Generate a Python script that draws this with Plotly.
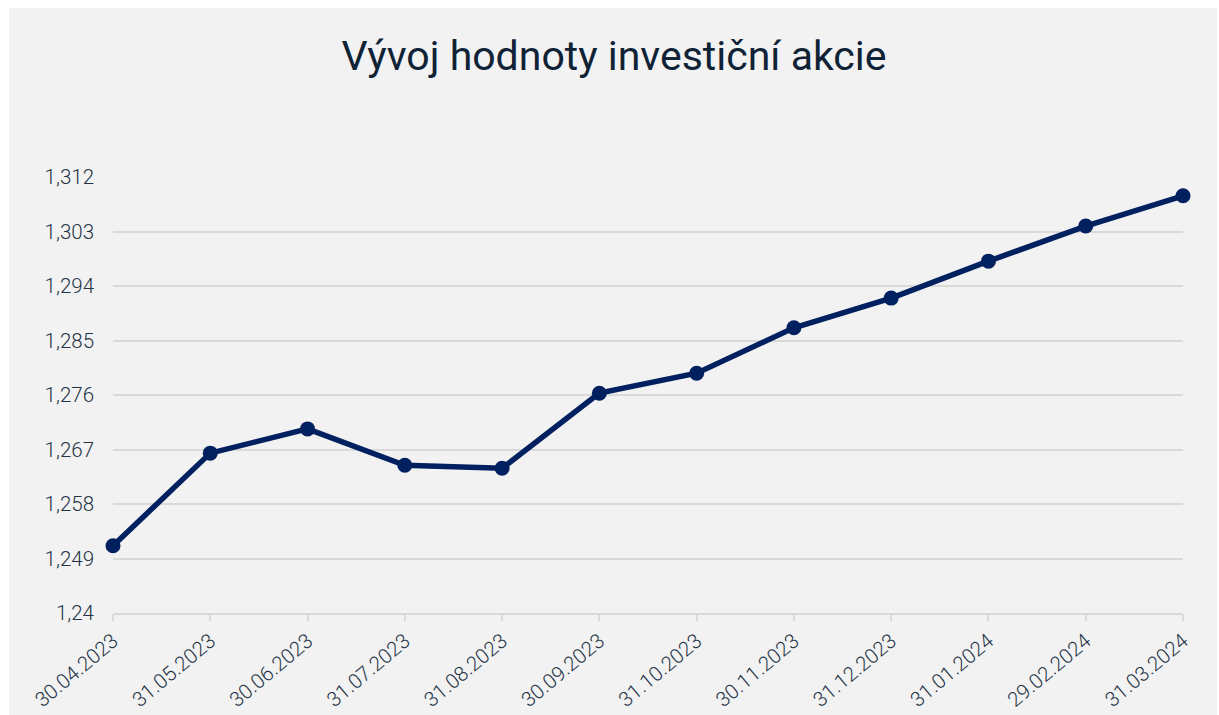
import plotly.graph_objects as go

dates = ["30.04.2023", "31.05.2023", "30.06.2023", "31.07.2023", "31.08.2023",
         "30.09.2023", "31.10.2023", "30.11.2023", "31.12.2023", "31.01.2024",
         "29.02.2024", "31.03.2024"]
values = [1.2511, 1.2664, 1.2704, 1.2644, 1.2639, 1.2763, 1.2796, 1.2871,
          1.2920, 1.2981, 1.3039, 1.3089]
ytick_vals = [1.24, 1.249, 1.258, 1.267, 1.276, 1.285, 1.294, 1.303, 1.312]
ytick_text = ["1,24", "1,249", "1,258", "1,267", "1,276", "1,285", "1,294", "1,303", "1,312"]
title = "Vývoj hodnoty investiční akcie"

W, H = 1219, 715
ml, mr, mt, mb = 113, 36, 177, 102
pw, ph = W - ml - mr, H - mt - mb

fig = go.Figure()
fig.add_trace(go.Scatter(
    x=dates, y=values, mode="lines+markers",
    line=dict(color="#002060", width=5.5),
    marker=dict(color="#002060", size=15),
    cliponaxis=False, hoverinfo="x+y",
))

# gray chart area with thin white border
fig.add_shape(type="rect", xref="paper", yref="paper", layer="below",
              x0=(9 - ml) / pw, x1=(1217 - ml) / pw,
              y0=(H - mb - 716) / ph, y1=(H - mb - 8) / ph,
              line=dict(width=0), fillcolor="#f2f2f2")

fig.update_layout(
    width=W, height=H,
    margin=dict(l=ml, r=mr, t=mt, b=mb, pad=0, autoexpand=False),
    paper_bgcolor="white", plot_bgcolor="rgba(0,0,0,0)",
    font=dict(family="Roboto", color="#243447"),
    showlegend=False,
    title=dict(text=title, x=(614) / W, xanchor="center", y=1 - 56 / H, yanchor="middle",
               font=dict(family="Roboto", size=41, color="#0f2236")),
    xaxis=dict(type="category", range=[0, len(dates) - 1], showgrid=False,
               automargin=False,
               showline=True, linecolor="#d9d9d9", linewidth=2,
               ticks="outside", ticklen=6, tickwidth=2, tickcolor="#d9d9d9",
               tickangle=-40, tickfont=dict(size=20.5, color="#243447", weight=300),
               zeroline=False),
    yaxis=dict(range=[1.24, 1.312], tickvals=ytick_vals, ticktext=ytick_text,
               automargin=False,
               showgrid=True, gridcolor="#d9d9d9", gridwidth=2,
               zeroline=False, showline=False, ticks="",
               ticklabelstandoff=18,
               tickfont=dict(size=20.5, color="#243447", weight=300)),
)

fig.write_html("out.html")
